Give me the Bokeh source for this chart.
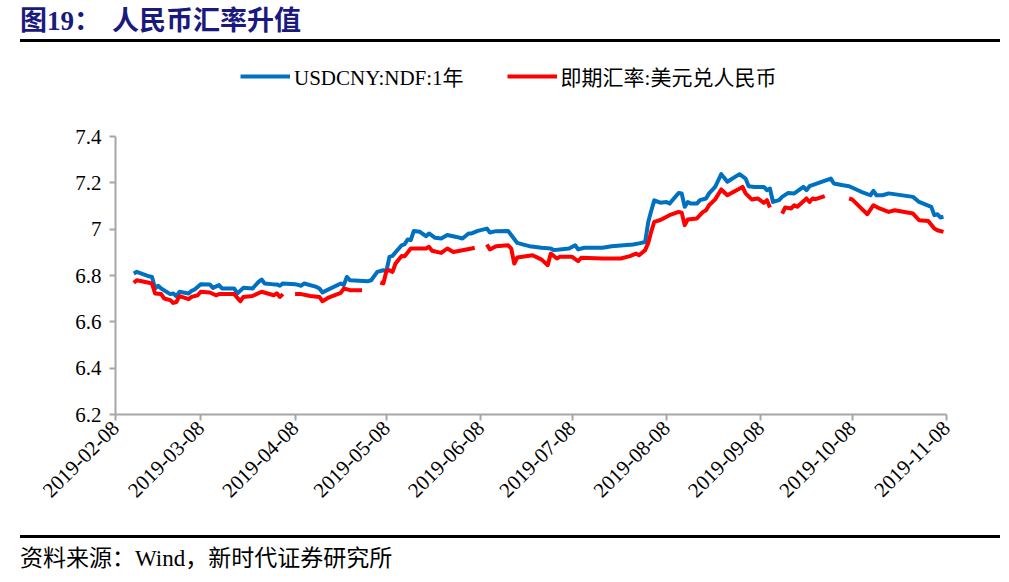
import datetime as dt
from math import pi
import pandas as pd
from bokeh.plotting import figure
from bokeh.models import (ColumnDataSource, Range1d, FixedTicker, DatetimeTickFormatter,
                          NumeralTickFormatter, Legend, LegendItem, Div)
from bokeh.layouts import column
from bokeh.embed import file_html
from bokeh.resources import INLINE

# ---------------- data ----------------
title_no = "图19："
title_text = "人民币汇率升值"
source_text = "资料来源：Wind，新时代证券研究所"
series_names = ["USDCNY:NDF:1年", "即期汇率:美元兑人民币"]

x_tick_dates = ["2019-02-08", "2019-03-08", "2019-04-08", "2019-05-08", "2019-06-08",
                "2019-07-08", "2019-08-08", "2019-09-08", "2019-10-08", "2019-11-08"]
y_ticks = [6.2, 6.4, 6.6, 6.8, 7.0, 7.2, 7.4]

ndf_dates = ["2019-02-14", "2019-02-15", "2019-02-19", "2019-02-20", "2019-02-21", "2019-02-22",
             "2019-02-23", "2019-02-26", "2019-02-27", "2019-02-28", "2019-03-01", "2019-03-04",
             "2019-03-05", "2019-03-06", "2019-03-08", "2019-03-11", "2019-03-12", "2019-03-14",
             "2019-03-15", "2019-03-19", "2019-03-20", "2019-03-22", "2019-03-25", "2019-03-27",
             "2019-03-28", "2019-03-29", "2019-04-01", "2019-04-02", "2019-04-03", "2019-04-04",
             "2019-04-08", "2019-04-10", "2019-04-11", "2019-04-15", "2019-04-16", "2019-04-17",
             "2019-04-18", "2019-04-23", "2019-04-24", "2019-04-25", "2019-04-26", "2019-05-02",
             "2019-05-03", "2019-05-05", "2019-05-07", "2019-05-08", "2019-05-09", "2019-05-10",
             "2019-05-13", "2019-05-14", "2019-05-15", "2019-05-16", "2019-05-17", "2019-05-19",
             "2019-05-21", "2019-05-22", "2019-05-24", "2019-05-26", "2019-05-28", "2019-05-31",
             "2019-06-02", "2019-06-04", "2019-06-05", "2019-06-07", "2019-06-10", "2019-06-11",
             "2019-06-13", "2019-06-17", "2019-06-18", "2019-06-20", "2019-06-22", "2019-06-24",
             "2019-06-28", "2019-07-01", "2019-07-02", "2019-07-04", "2019-07-07", "2019-07-09",
             "2019-07-10", "2019-07-12", "2019-07-18", "2019-07-21", "2019-07-28", "2019-07-30",
             "2019-08-01", "2019-08-02", "2019-08-03", "2019-08-04", "2019-08-06", "2019-08-08",
             "2019-08-09", "2019-08-12", "2019-08-13", "2019-08-14", "2019-08-15", "2019-08-16",
             "2019-08-18", "2019-08-19", "2019-08-21", "2019-08-22", "2019-08-24", "2019-08-26",
             "2019-08-28", "2019-09-01", "2019-09-03", "2019-09-04", "2019-09-06", "2019-09-09",
             "2019-09-10", "2019-09-11", "2019-09-12", "2019-09-14", "2019-09-15", "2019-09-17",
             "2019-09-19", "2019-09-22", "2019-09-23", "2019-09-24", "2019-10-01", "2019-10-02",
             "2019-10-05", "2019-10-07", "2019-10-11", "2019-10-14", "2019-10-15", "2019-10-16",
             "2019-10-18", "2019-10-20", "2019-10-28", "2019-10-30", "2019-11-03", "2019-11-04",
             "2019-11-05", "2019-11-06", "2019-11-07"]
ndf_values = [6.809, 6.816, 6.797, 6.794, 6.744, 6.756,
              6.744, 6.720, 6.723, 6.711, 6.730, 6.723,
              6.734, 6.740, 6.763, 6.762, 6.747, 6.759,
              6.744, 6.744, 6.723, 6.747, 6.744, 6.773,
              6.783, 6.766, 6.762, 6.762, 6.756, 6.766,
              6.763, 6.756, 6.766, 6.751, 6.744, 6.727,
              6.734, 6.766, 6.759, 6.794, 6.780, 6.776,
              6.780, 6.816, 6.823, 6.819, 6.881, 6.885,
              6.931, 6.936, 6.956, 6.953, 6.993, 6.989,
              6.970, 6.982, 6.963, 6.960, 6.975, 6.967,
              6.960, 6.982, 6.982, 6.993, 7.003, 6.986,
              6.992, 6.993, 6.975, 6.941, 6.934, 6.927,
              6.920, 6.917, 6.910, 6.913, 6.917, 6.931,
              6.913, 6.920, 6.920, 6.927, 6.934, 6.939,
              6.945, 7.030, 7.080, 7.125, 7.115, 7.118,
              7.111, 7.157, 7.155, 7.097, 7.118, 7.111,
              7.111, 7.126, 7.133, 7.155, 7.183, 7.238,
              7.205, 7.238, 7.219, 7.186, 7.183, 7.183,
              7.169, 7.176, 7.118, 7.126, 7.140, 7.157,
              7.155, 7.183, 7.169, 7.186, 7.219, 7.198,
              7.190, 7.186, 7.162, 7.147, 7.166, 7.147,
              7.147, 7.155, 7.140, 7.118, 7.097, 7.061,
              7.065, 7.051, 7.054]

spot_dates = ["2019-02-14", "2019-02-15", "2019-02-19", "2019-02-20", "2019-02-21", "2019-02-23",
              "2019-02-24", "2019-02-26", "2019-02-27", "2019-02-28", "2019-03-01", "2019-03-04",
              "2019-03-05", "2019-03-07", "2019-03-08", "2019-03-11", "2019-03-13", "2019-03-14",
              "2019-03-19", "2019-03-21", "2019-03-22", "2019-03-25", "2019-03-28", "2019-04-01",
              "2019-04-02", "2019-04-03", "2019-04-04", "2019-04-05", "2019-04-08", "2019-04-10",
              "2019-04-13", "2019-04-16", "2019-04-17", "2019-04-19", "2019-04-23", "2019-04-24",
              "2019-04-26", "2019-04-30", "2019-05-01", "2019-05-06", "2019-05-07", "2019-05-08",
              "2019-05-09", "2019-05-10", "2019-05-11", "2019-05-13", "2019-05-14", "2019-05-16",
              "2019-05-21", "2019-05-22", "2019-05-23", "2019-05-26", "2019-05-28", "2019-05-30",
              "2019-06-05", "2019-06-06", "2019-06-07", "2019-06-10", "2019-06-11", "2019-06-13",
              "2019-06-17", "2019-06-18", "2019-06-19", "2019-06-20", "2019-06-25", "2019-06-28",
              "2019-06-30", "2019-07-01", "2019-07-03", "2019-07-04", "2019-07-08", "2019-07-10",
              "2019-07-11", "2019-07-18", "2019-07-24", "2019-07-27", "2019-07-29", "2019-07-30",
              "2019-08-01", "2019-08-02", "2019-08-03", "2019-08-04", "2019-08-06", "2019-08-09",
              "2019-08-12", "2019-08-13", "2019-08-14", "2019-08-15", "2019-08-18", "2019-08-20",
              "2019-08-21", "2019-08-22", "2019-08-24", "2019-08-26", "2019-08-28", "2019-09-02",
              "2019-09-03", "2019-09-05", "2019-09-07", "2019-09-09", "2019-09-10", "2019-09-11",
              "2019-09-12", "2019-09-15", "2019-09-16", "2019-09-18", "2019-09-19", "2019-09-20",
              "2019-09-23", "2019-09-24", "2019-09-25", "2019-09-26", "2019-09-29", "2019-10-01",
              "2019-10-07", "2019-10-08", "2019-10-11", "2019-10-13", "2019-10-15", "2019-10-17",
              "2019-10-20", "2019-10-22", "2019-10-28", "2019-10-30", "2019-11-02", "2019-11-04",
              "2019-11-05", "2019-11-07"]
nan = float("nan")
spot_values = [6.769, 6.780, 6.769, 6.765, 6.723, 6.720,
               6.701, 6.694, 6.682, 6.686, 6.711, 6.698,
               6.708, 6.715, 6.730, 6.727, 6.715, 6.720,
               6.720, 6.689, 6.708, 6.712, 6.730, 6.715,
               6.723, 6.708, 6.720, nan, 6.720, 6.720,
               6.712, 6.708, 6.689, 6.705, 6.725, 6.744,
               6.737, 6.737, nan, 6.770, 6.766, 6.820,
               6.823, 6.816, 6.852, 6.885, 6.884, 6.917,
               6.917, 6.924, 6.907, 6.898, 6.917, 6.902,
               6.917, 6.920, nan, 6.934, 6.913, 6.927,
               6.931, 6.917, 6.852, 6.878, 6.888, 6.869,
               6.845, 6.895, 6.874, 6.881, 6.881, 6.862,
               6.877, 6.874, 6.874, 6.884, 6.895, 6.888,
               6.910, 6.940, 6.990, 7.032, 7.040, 7.061,
               7.075, 7.072, 7.018, 7.042, 7.047, 7.075,
               7.082, 7.104, 7.129, 7.172, 7.147, 7.183,
               7.155, 7.129, 7.133, 7.114, 7.126, 7.094,
               nan, 7.068, 7.094, 7.090, 7.104, 7.097,
               7.133, 7.118, 7.133, 7.130, 7.143, nan,
               7.133, 7.129, 7.090, 7.065, 7.104, 7.090,
               7.075, 7.082, 7.068, 7.039, 7.036, 7.003,
               6.996, 6.989]

# ---------------- styles ----------------
FONT = "'Liberation Serif', 'Noto Sans CJK SC'"
BLUE = "#0070C0"
RED = "#FF0000"
AXIS = "#a6a6a6"
NAVY = "#1a1a7e"
W = 1009

# ---------------- header (HTML) ----------------
head_html = (
    '<div style="position:relative;width:1009px;height:48px;margin:0;padding:0;">'
    f'<span style="position:absolute;left:20px;top:5px;white-space:nowrap;font-family:{FONT};'
    f'font-size:27px;font-weight:bold;line-height:32px;color:{NAVY};">{title_no}</span>'
    f'<span style="position:absolute;left:112px;top:5px;white-space:nowrap;font-family:{FONT};'
    f'font-size:27px;font-weight:bold;line-height:32px;color:{NAVY};">{title_text}</span>'
    '<div style="position:absolute;left:20px;top:39px;width:980px;height:3px;background:#000;"></div>'
    '</div>'
)
head = Div(text=head_html, width=W, height=48, styles={"margin": "0", "padding": "0"})

# ---------------- main chart ----------------
# the frame reaches above 7.4 so that the legend sits inside it; the y axis is bounded to 6.2-7.4
p = figure(width=W, height=480, x_axis_type="datetime",
           x_range=Range1d(dt.datetime(2019, 2, 8), dt.datetime(2019, 11, 8)),
           y_range=Range1d(6.2, 7.729),
           min_border_left=115, min_border_right=63, min_border_top=12, min_border_bottom=114,
           output_backend="svg", toolbar_location=None)
p.grid.visible = False
p.outline_line_color = None

src_ndf = ColumnDataSource(dict(date=pd.to_datetime(ndf_dates), value=ndf_values))
src_spot = ColumnDataSource(dict(date=pd.to_datetime(spot_dates), value=spot_values))
r1 = p.line("date", "value", source=src_ndf, line_color=BLUE, line_width=4, line_join="round")
r2 = p.line("date", "value", source=src_spot, line_color=RED, line_width=4, line_join="round")

xa = p.xaxis[0]
xa.ticker = FixedTicker(ticks=[pd.Timestamp(d).value / 1e6 for d in x_tick_dates], minor_ticks=[])
xa.formatter = DatetimeTickFormatter(days="%Y-%m-%d", months="%Y-%m-%d", years="%Y-%m-%d")
xa.major_label_orientation = pi / 4
ya = p.yaxis[0]
ya.ticker = FixedTicker(ticks=y_ticks, minor_ticks=[])
ya.formatter = NumeralTickFormatter(format="0.[0]")
ya.bounds = (y_ticks[0], y_ticks[-1])
for ax in (xa, ya):
    ax.axis_line_color = AXIS
    ax.axis_line_width = 2
    ax.major_tick_line_color = AXIS
    ax.major_tick_line_width = 2
    ax.major_tick_in = 0
    ax.major_tick_out = 6
    ax.minor_tick_line_color = None
    ax.major_label_text_font = FONT
    ax.major_label_text_font_size = "21px"
    ax.major_label_text_color = "black"
ya.major_label_standoff = 8
xa.major_label_standoff = 4

legend = Legend(items=[LegendItem(label=series_names[0], renderers=[r1]),
                       LegendItem(label=series_names[1], renderers=[r2])],
                orientation="horizontal", location=(125, 323),
                label_text_font=FONT, label_text_font_size="21px", label_text_color="black",
                glyph_width=50, glyph_height=22, label_height=22, label_standoff=4, spacing=43,
                padding=0, margin=0, border_line_color=None, background_fill_alpha=0)
p.add_layout(legend)

# ---------------- footer (HTML) ----------------
foot_html = (
    '<div style="position:relative;width:1009px;height:54px;margin:0;padding:0;">'
    '<div style="position:absolute;left:20px;top:7px;width:980px;height:3px;background:#000;"></div>'
    f'<span style="position:absolute;left:20px;top:17px;white-space:nowrap;font-family:{FONT};'
    f'font-size:23px;line-height:28px;color:#000;">{source_text}</span>'
    '</div>'
)
foot = Div(text=foot_html, width=W, height=54, styles={"margin": "0", "padding": "0"})

layout = column(head, p, foot, spacing=0)
open("out.html", "w").write(file_html(layout, INLINE))
